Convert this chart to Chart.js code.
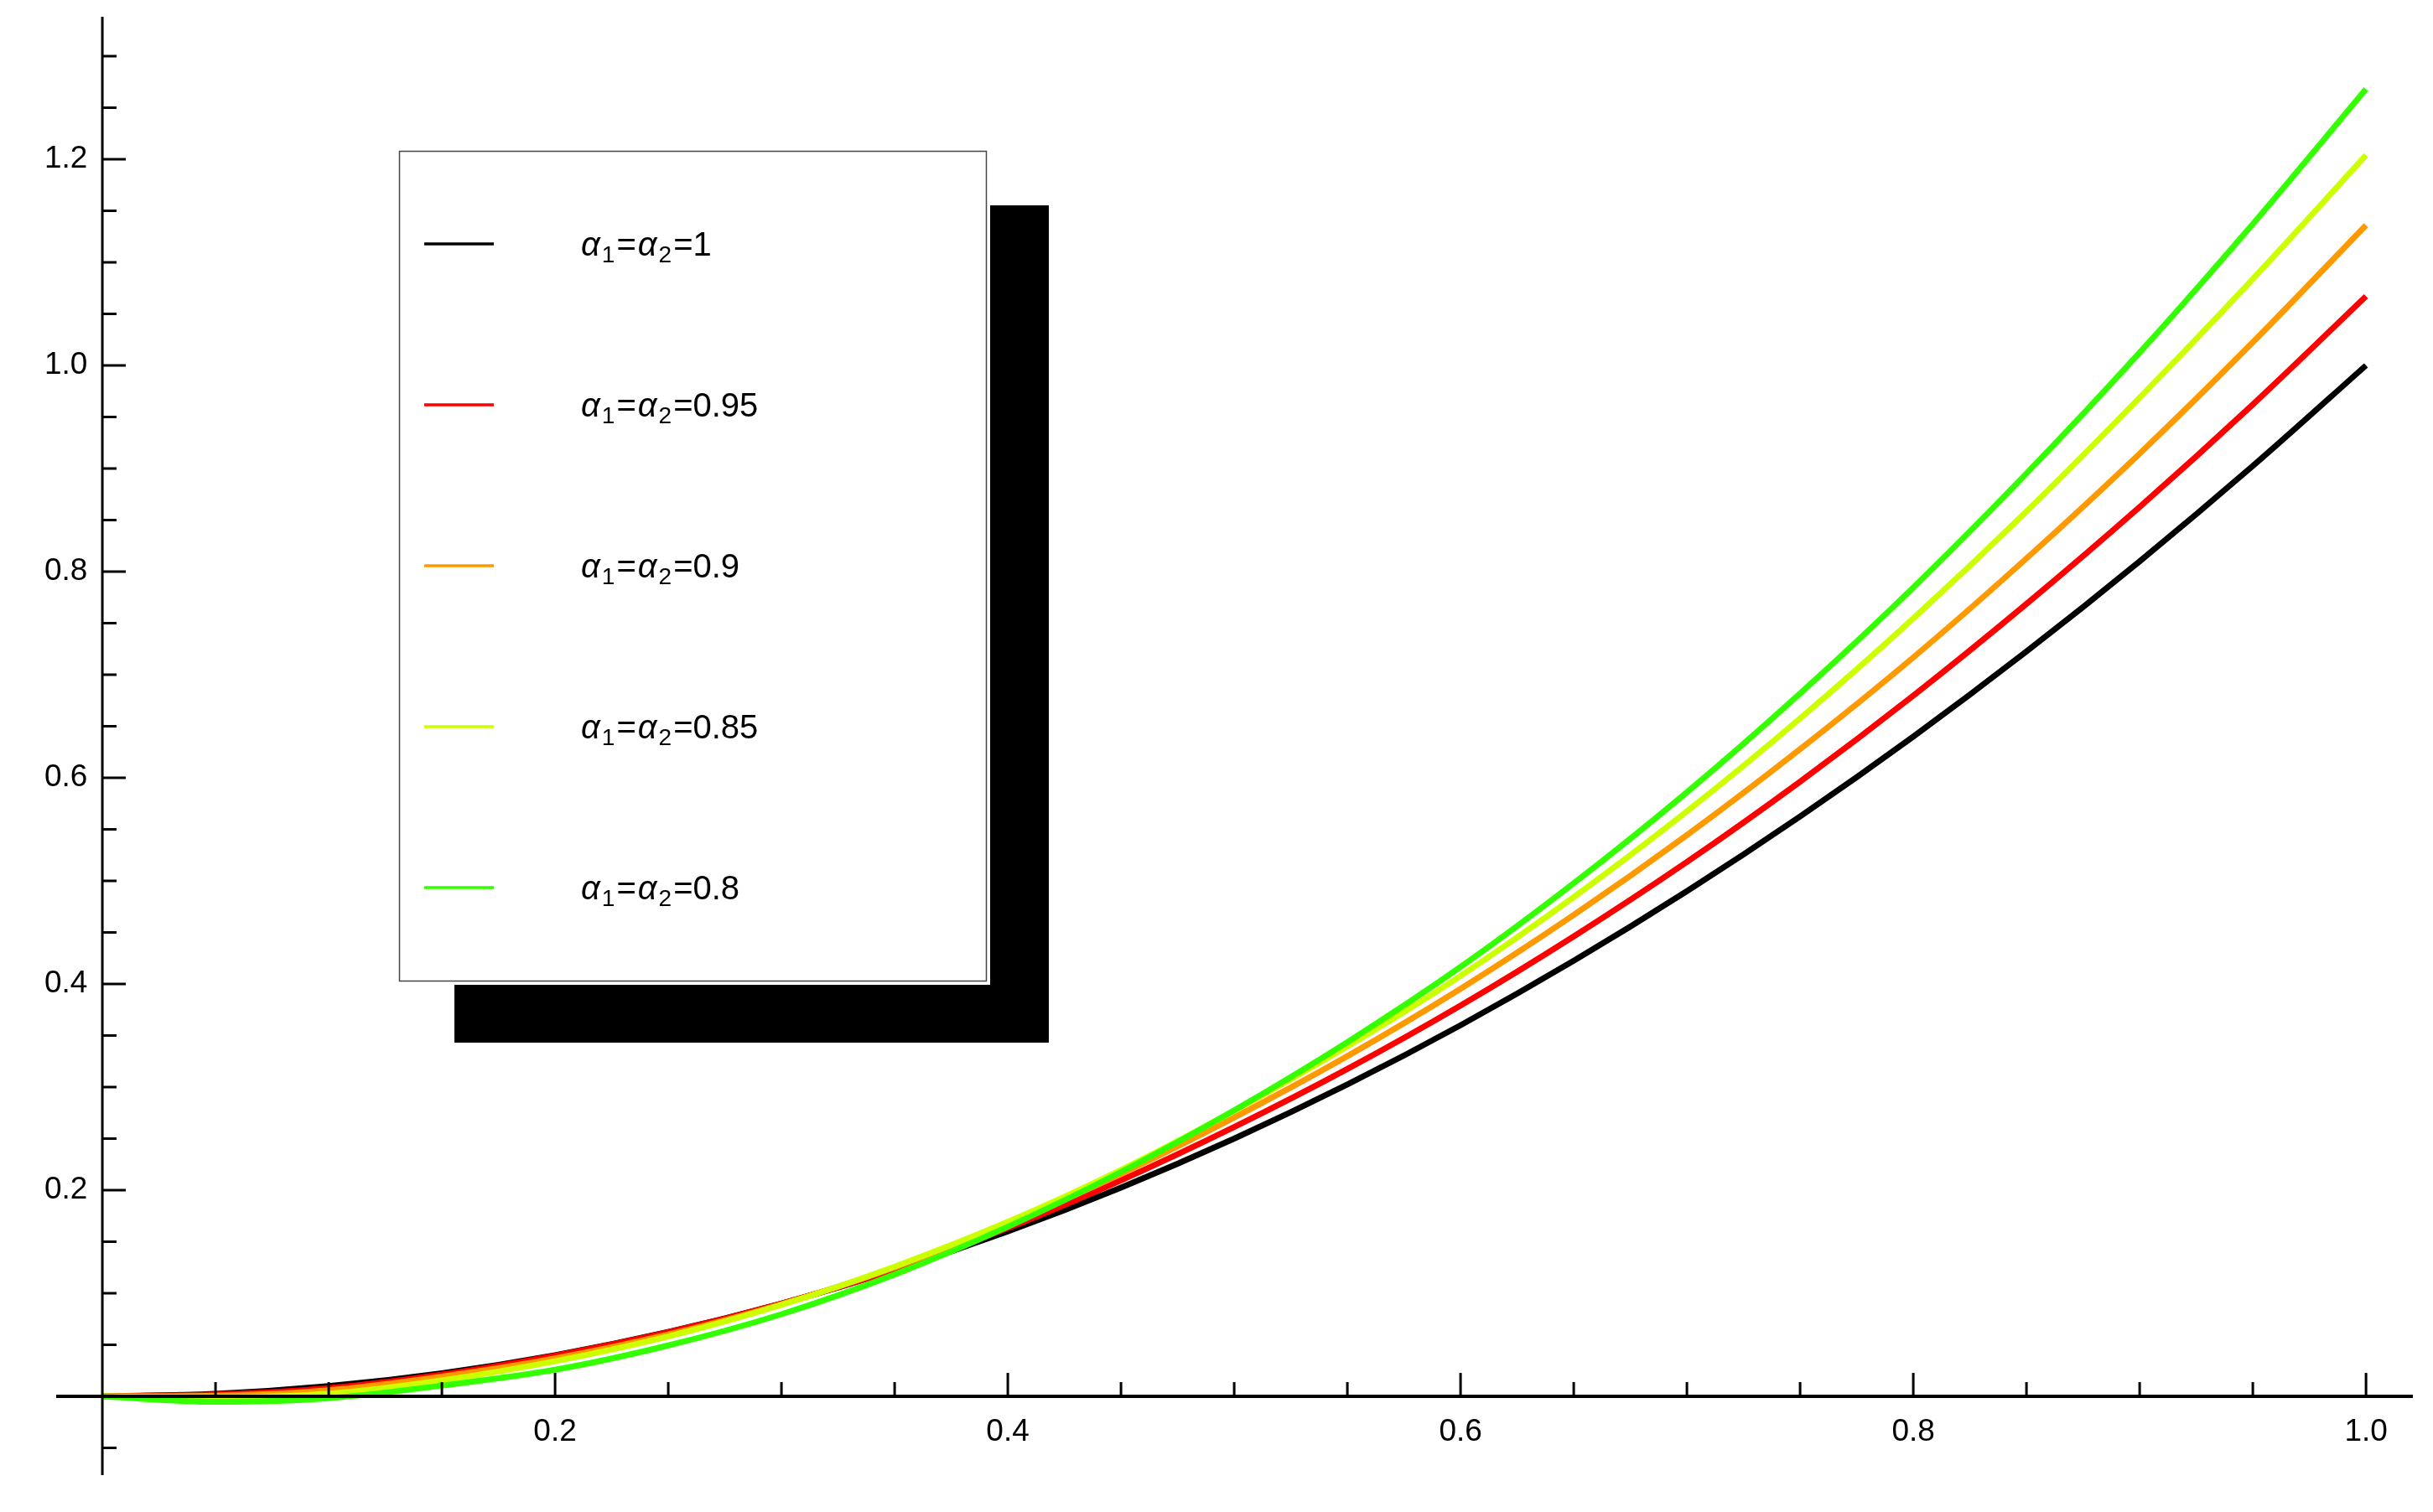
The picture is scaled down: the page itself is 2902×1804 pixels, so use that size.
<!DOCTYPE html>
<html>
<head>
<meta charset="utf-8">
<title>alpha curves</title>
<script src="https://cdn.jsdelivr.net/npm/chart.js@4.4.1/dist/chart.umd.min.js"></script>
<style>
  html, body { margin: 0; padding: 0; background: #fff; }
  #chartBox { width: 2902px; height: 1804px; }
</style>
</head>
<body>
<div id="chartBox"><canvas id="myChart" width="2902" height="1804"></canvas></div>
<script>
// x positions the curves were read at
const xValues = [0, 0.05, 0.1, 0.15, 0.2, 0.25, 0.3, 0.35, 0.4, 0.45, 0.5,
  0.55, 0.6, 0.65, 0.7, 0.75, 0.8, 0.85, 0.9, 0.95, 1.0];

// one array per alpha value
const alpha100 = [0, 0.0025, 0.01, 0.0225, 0.04, 0.0625, 0.09, 0.1225, 0.16, 0.2025, 0.25,
  0.3025, 0.36, 0.4225, 0.49, 0.5625, 0.64, 0.7225, 0.81, 0.9025, 1.0];
const alpha095 = [0, 0.0018, 0.008, 0.0212, 0.0396, 0.0622, 0.090, 0.1231, 0.1632, 0.2096, 0.2613,
  0.3176, 0.3791, 0.4462, 0.5184, 0.5963, 0.6797, 0.7687, 0.8627, 0.9621, 1.067];
const alpha090 = [0, 0.0007, 0.006, 0.0192, 0.0368, 0.060, 0.0894, 0.125, 0.1672, 0.2159, 0.2705,
  0.330, 0.3953, 0.4669, 0.5444, 0.6278, 0.7168, 0.8128, 0.9145, 1.0225, 1.136];
const alpha085 = [0, -0.001, 0.0026, 0.0155, 0.0341, 0.0581, 0.0887, 0.1259, 0.1693, 0.2197, 0.277,
  0.3394, 0.4079, 0.4842, 0.5674, 0.6576, 0.7546, 0.8583, 0.9688, 1.0839, 1.204];
const alpha080 = [0, -0.0053, -0.0018, 0.0105, 0.0258, 0.0494, 0.0797, 0.1182, 0.1645, 0.2177, 0.2775,
  0.3436, 0.4165, 0.4977, 0.586, 0.6818, 0.7846, 0.8952, 1.0125, 1.1372, 1.268];

const alphaNames = ['1', '0.95', '0.9', '0.85', '0.8'];
const lineColors = ['#000000', '#ff0000', '#ff9900', '#ccff00', '#33ff00'];

// labelled ticks
const xTicks = [0.2, 0.4, 0.6, 0.8, 1.0];
const xTickLabels = ['0.2', '0.4', '0.6', '0.8', '1.0'];
const yTicks = [0.2, 0.4, 0.6, 0.8, 1.0, 1.2];
const yTickLabels = ['0.2', '0.4', '0.6', '0.8', '1.0', '1.2'];

// visible extent of the two axes
const xRange = [-0.0204, 1.0207];
const yRange = [-0.0764, 1.3382];

const FONT = '"Liberation Sans", Arial, Helvetica, sans-serif';
// where the plot box should sit on the canvas
const BOX = { left: 67, right: 2878, top: 20, bottom: 1760 };

function toPoints(ys) {
  return xValues.map((x, i) => ({ x: x, y: ys[i] }));
}

const allSeries = [alpha100, alpha095, alpha090, alpha085, alpha080];

const datasets = allSeries.map((ys, i) => ({
  label: `α₁=α₂=${alphaNames[i]}`,
  data: toPoints(ys),
  borderColor: lineColors[i],
  backgroundColor: lineColors[i],
  borderWidth: 7,
  pointRadius: 0,
  fill: false,
  cubicInterpolationMode: 'monotone',
  order: allSeries.length - i   // green ends up on top
}));

// axes through the origin, with inner tick marks (drawn over the curves)
const crossAxes = {
  id: 'crossAxes',
  afterDatasetsDraw(chart) {
    const ctx = chart.ctx;
    const xs = chart.scales.x;
    const ys = chart.scales.y;
    const x0 = xs.getPixelForValue(0);
    const y0 = ys.getPixelForValue(0);

    ctx.save();
    ctx.strokeStyle = '#000';
    ctx.lineWidth = 4;
    ctx.beginPath();
    ctx.moveTo(xs.getPixelForValue(xRange[0]), y0);
    ctx.lineTo(xs.getPixelForValue(xRange[1]), y0);
    ctx.stroke();

    ctx.lineWidth = 3;
    ctx.beginPath();
    ctx.moveTo(x0, ys.getPixelForValue(yRange[1]));
    ctx.lineTo(x0, ys.getPixelForValue(yRange[0]));
    ctx.stroke();

    // x ticks every 0.05, long ones every 0.2
    ctx.beginPath();
    for (let k = 1; k <= 20; k++) {
      const px = xs.getPixelForValue(k * 0.05);
      const len = (k % 4 === 0) ? 28 : 17;
      ctx.moveTo(px, y0);
      ctx.lineTo(px, y0 - len);
    }
    // y ticks every 0.05 from -0.05 to 1.3
    for (let k = -1; k <= 26; k++) {
      if (k === 0) continue;
      const py = ys.getPixelForValue(k * 0.05);
      const len = (k % 4 === 0) ? 28 : 17;
      ctx.moveTo(x0, py);
      ctx.lineTo(x0 + len, py);
    }
    ctx.stroke();
    ctx.restore();
  }
};

// alpha written with subscripts, italic alpha
function drawAlphaLabel(ctx, x, y, value) {
  const pieces = [
    { t: 'α', f: `italic 40px ${FONT}`, dy: 0 },
    { t: '1', f: `28px ${FONT}`, dy: 8 },
    { t: '=', f: `40px ${FONT}`, dy: 0 },
    { t: 'α', f: `italic 40px ${FONT}`, dy: 0 },
    { t: '2', f: `28px ${FONT}`, dy: 8 },
    { t: '=' + value, f: `40px ${FONT}`, dy: 0 }
  ];
  let cx = x;
  pieces.forEach(p => {
    ctx.font = p.f;
    ctx.fillText(p.t, cx, y + p.dy);
    cx += ctx.measureText(p.t).width + 2;
  });
}

// legend box with a drop shadow
const boxLegend = {
  id: 'boxLegend',
  afterDraw(chart) {
    const ctx = chart.ctx;
    ctx.save();
    ctx.fillStyle = '#000';
    ctx.fillRect(542, 245, 709, 999);
    ctx.fillStyle = '#fff';
    ctx.fillRect(476, 180, 705, 995);
    ctx.strokeStyle = '#444';
    ctx.lineWidth = 1.5;
    ctx.strokeRect(476.5, 180.5, 700, 990);

    ctx.textAlign = 'left';
    ctx.textBaseline = 'alphabetic';
    chart.data.datasets.forEach((ds, i) => {
      const ly = 291 + i * 192;
      ctx.strokeStyle = ds.borderColor;
      ctx.lineWidth = 3.5;
      ctx.beginPath();
      ctx.moveTo(506, ly);
      ctx.lineTo(589, ly);
      ctx.stroke();
      ctx.fillStyle = '#000';
      drawAlphaLabel(ctx, 693, ly + 14, alphaNames[i]);
    });
    ctx.restore();
  }
};

const ctx = document.getElementById('myChart').getContext('2d');
const chart = new Chart(ctx, {
  type: 'line',
  data: { datasets: datasets },
  options: {
    responsive: false,
    animation: false,
    events: [],
    layout: { padding: { left: BOX.left, right: 2902 - BOX.right, top: BOX.top, bottom: 1804 - BOX.bottom } },
    plugins: {
      legend: { display: false },
      tooltip: { enabled: false }
    },
    scales: {
      x: {
        type: 'linear',
        position: { y: 0 },
        min: xRange[0],
        max: xRange[1],
        grid: { display: false, drawTicks: false },
        border: { display: false },
        afterBuildTicks: (scale) => { scale.ticks = xTicks.map(v => ({ value: v })); },
        ticks: {
          autoSkip: false,
          maxRotation: 0,
          padding: 21,
          color: '#000',
          font: { family: FONT, size: 37 },
          callback: (value, index) => xTickLabels[index]
        }
      },
      y: {
        type: 'linear',
        position: { x: 0 },
        min: yRange[0],
        max: yRange[1],
        grid: { display: false, drawTicks: false },
        border: { display: false },
        afterBuildTicks: (scale) => { scale.ticks = yTicks.map(v => ({ value: v })); },
        ticks: {
          autoSkip: false,
          color: '#000',
          font: { family: FONT, size: 37 },
          // labels are right-aligned on the axis line, so pad them with spaces
          callback: (value, index) => yTickLabels[index] + ' \u2009'
        }
      }
    }
  },
  plugins: [crossAxes, boxLegend]
});

// Chart.js keeps some room for tick labels, so stretch min/max until
// the plot box lands where it should
const area = chart.chartArea;
console.log('chart area:', area);
const xSpan = xRange[1] - xRange[0];
const ySpan = yRange[1] - yRange[0];
chart.options.scales.x.min = xRange[0] + (area.left - BOX.left) / (BOX.right - BOX.left) * xSpan;
chart.options.scales.x.max = xRange[0] + (area.right - BOX.left) / (BOX.right - BOX.left) * xSpan;
chart.options.scales.y.min = yRange[0] + (BOX.bottom - area.bottom) / (BOX.bottom - BOX.top) * ySpan;
chart.options.scales.y.max = yRange[0] + (BOX.bottom - area.top) / (BOX.bottom - BOX.top) * ySpan;
chart.update();
console.log('after fix:', chart.chartArea);
</script>
</body>
</html>
